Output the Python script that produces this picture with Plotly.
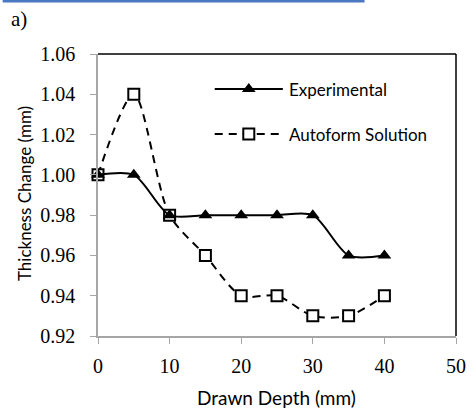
import plotly.graph_objects as go

# Drawn depth (mm) and measured / simulated thickness (mm)
depth = [0, 5, 10, 15, 20, 25, 30, 35, 40]
experimental = [1.00, 1.00, 0.98, 0.98, 0.98, 0.98, 0.98, 0.96, 0.96]
autoform = [1.00, 1.04, 0.98, 0.96, 0.94, 0.94, 0.93, 0.93, 0.94]

series_names = ["Experimental", "Autoform Solution"]
x_ticks = [0, 10, 20, 30, 40, 50]
y_ticks = [0.92, 0.94, 0.96, 0.98, 1.00, 1.02, 1.04, 1.06]

W, H = 476, 412
ML, MR, MT, MB = 98, 10, 54, 76
PW, PH = W - ML - MR, H - MT - MB


def px_x(p):
    return (p - ML) / PW


def px_y(p):
    return 1 - (p - MT) / PH


font_main = "Lato, 'Open Sans', sans-serif"
font_ticks = "'Liberation Serif', 'DejaVu Serif', serif"

fig = go.Figure()

fig.add_trace(go.Scatter(
    x=depth, y=autoform, mode="lines+markers", name=series_names[1],
    line=dict(color="black", width=2, dash="8px,6px", shape="spline", smoothing=0.8),
    marker=dict(symbol="square", size=11, color="white",
                line=dict(color="black", width=2)),
    showlegend=False, cliponaxis=False,
))
fig.add_trace(go.Scatter(
    x=depth, y=experimental, mode="lines+markers", name=series_names[0],
    line=dict(color="black", width=2, shape="spline", smoothing=0.8),
    marker=dict(symbol="triangle-up", size=12, color="black",
                line=dict(color="black", width=0)),
    showlegend=False, cliponaxis=False,
))

# Legend samples drawn on an overlay axis spanning the plot area
leg_x0, leg_x1, leg_xm = px_x(218), px_x(288), px_x(253)
rows = [px_y(89), px_y(134)]
fig.add_trace(go.Scatter(
    x=[leg_x0, leg_x1], y=[rows[0], rows[0]], mode="lines",
    line=dict(color="black", width=2), xaxis="x2", yaxis="y2",
    showlegend=False, hoverinfo="skip",
))
fig.add_trace(go.Scatter(
    x=[leg_xm], y=[rows[0]], mode="markers",
    marker=dict(symbol="triangle-up", size=12, color="black"),
    xaxis="x2", yaxis="y2", showlegend=False, hoverinfo="skip",
))
fig.add_trace(go.Scatter(
    x=[leg_x0, leg_x1], y=[rows[1], rows[1]], mode="lines",
    line=dict(color="black", width=2, dash="8px,6px"), xaxis="x2", yaxis="y2",
    showlegend=False, hoverinfo="skip",
))
fig.add_trace(go.Scatter(
    x=[leg_xm], y=[rows[1]], mode="markers",
    marker=dict(symbol="square", size=11, color="white",
                line=dict(color="black", width=2)),
    xaxis="x2", yaxis="y2", showlegend=False, hoverinfo="skip",
))

annotations = []
for name, ry in zip(series_names, rows):
    annotations.append(dict(
        x=px_x(292), y=ry, xref="paper", yref="paper", text=name,
        showarrow=False, xanchor="left", yanchor="middle",
        font=dict(family=font_main, size=17, color="black"),
    ))
annotations.append(dict(
    x=px_x(7), y=px_y(19), xref="paper", yref="paper", text="a)",
    showarrow=False, xanchor="left", yanchor="middle",
    font=dict(family="'Liberation Serif', serif", size=21, color="black"),
))
annotations.append(dict(
    x=px_x(281), y=px_y(397), xref="paper", yref="paper", text="Drawn Depth (mm)",
    showarrow=False, xanchor="center", yanchor="middle",
    font=dict(family=font_main, size=19, color="black"),
))
annotations.append(dict(
    x=px_x(22), y=px_y(194), xref="paper", yref="paper", text="Thickness Change (mm)",
    showarrow=False, xanchor="center", yanchor="middle", textangle=-90,
    font=dict(family=font_main, size=17, color="black"),
))

shapes = [
    # frame on the top and right edges of the plot area
    dict(type="line", xref="paper", yref="paper", x0=0, x1=1, y0=1, y1=1,
         line=dict(color="black", width=1.5)),
    dict(type="line", xref="paper", yref="paper", x0=1, x1=1, y0=0, y1=1,
         line=dict(color="black", width=1.5)),
    # blue rule along the page top
    dict(type="rect", xref="paper", yref="paper", x0=px_x(0), x1=px_x(372),
         y0=px_y(2.5), y1=px_y(0), fillcolor="#4a78c2", line=dict(width=0)),
]

fig.update_layout(
    width=W, height=H,
    margin=dict(l=ML, r=MR, t=MT, b=MB),
    paper_bgcolor="white", plot_bgcolor="white",
    font=dict(family=font_main, color="black"),
    xaxis=dict(
        range=[0, 50], tickvals=x_ticks, ticktext=[str(v) for v in x_ticks],
        showgrid=False, zeroline=False, showline=True, linecolor="#a6a6a6",
        linewidth=1.5, ticks="outside", ticklen=6, tickcolor="#a6a6a6",
        ticklabelstandoff=5, ticklabeloverflow="allow",
        tickfont=dict(family=font_ticks, size=20, color="black"),
    ),
    yaxis=dict(
        range=[0.92, 1.06], tickvals=y_ticks,
        ticktext=[f"{v:.2f}" for v in y_ticks],
        showgrid=False, zeroline=False, showline=True, linecolor="#a6a6a6",
        linewidth=1.5, ticks="outside", ticklen=6, tickcolor="#a6a6a6",
        ticklabelstandoff=11,
        tickfont=dict(family=font_ticks, size=20, color="black"),
    ),
    xaxis2=dict(overlaying="x", range=[0, 1], visible=False, fixedrange=True),
    yaxis2=dict(overlaying="y", range=[0, 1], visible=False, fixedrange=True),
    annotations=annotations,
    shapes=shapes,
    showlegend=False,
)

fig.write_html("out.html")
